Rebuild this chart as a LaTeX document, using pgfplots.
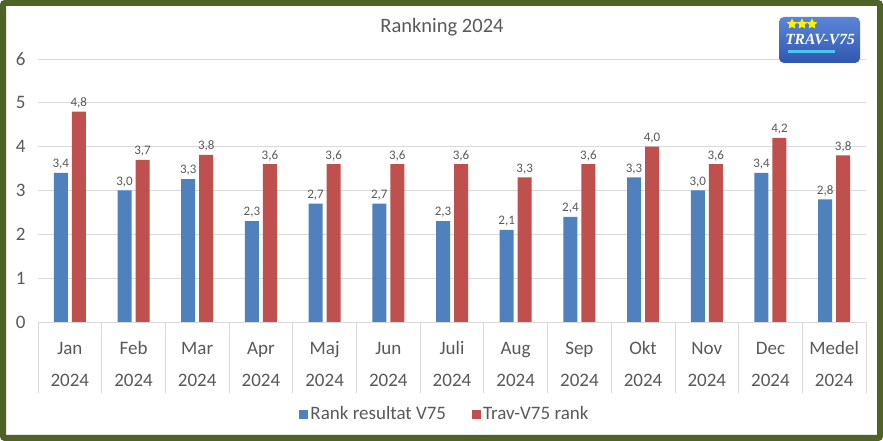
\documentclass[border=0pt]{standalone}
\usepackage{pgfplots}
\pgfplotsset{compat=1.18}
\usepackage{fontspec}
\setmainfont{Carlito}
\newfontfamily\logofont{Liberation Serif}
\usetikzlibrary{shapes.geometric}
\definecolor{serA}{HTML}{4F81BD}
\definecolor{serB}{HTML}{C0504D}
\definecolor{gridc}{HTML}{D9D9D9}
\definecolor{txt}{HTML}{595959}
\definecolor{frame}{HTML}{4F6228}
\definecolor{logoA}{HTML}{5B86D6}
\definecolor{logoB}{HTML}{2F57B0}
\newcommand{\ml}[1]{\strut #1\\[11pt]\strut 2024}

\begin{document}
\begin{tikzpicture}[x=1pt,y=1pt]
\useasboundingbox (0,0) rectangle (883,441);
\fill[white] (0,0) rectangle (883,441);
\draw[frame, line width=6pt, rounded corners=2pt] (3,3) rectangle (880,438);

\begin{axis}[
  at={(38pt,119pt)}, anchor=south west,
  scale only axis, width=828pt, height=263pt,
  ybar=4pt, bar width=14pt,
  xmin=-0.5, xmax=12.5, ymin=0, ymax=6,
  ytick={0,...,6},
  xtick={0,...,12},
  xticklabels={\ml{Jan},\ml{Feb},\ml{Mar},\ml{Apr},\ml{Maj},\ml{Jun},\ml{Juli},\ml{Aug},\ml{Sep},\ml{Okt},\ml{Nov},\ml{Dec},\ml{Medel}},
  xticklabel style={align=center, font=\fontsize{19}{21}\selectfont, text=txt, yshift=-14pt},
  minor xtick={-0.5,0.5,...,12.5},
  tick align=outside,
  major tick length=0pt,
  minor tick length=71pt,
  minor x tick style={draw=gridc, line width=0.8pt},
  yticklabel style={font=\fontsize{19}{21}\selectfont, text=txt, xshift=-9pt},
  /pgf/number format/assume math mode=true,
  ymajorgrids, grid style={gridc, line width=0.8pt},
  major y tick style={draw=none},
  axis x line*=bottom, axis y line*=left,
  x axis line style={gridc, line width=0.8pt, -},
  y axis line style={draw=none},
  nodes near coords,
  nodes near coords style={font=\fontsize{13}{14}\selectfont, text=txt,
    /pgf/number format/.cd, fixed, fixed zerofill, precision=1, use comma, assume math mode=true},
  legend style={at={(0.4915,-0.35)}, anchor=center, draw=none, fill=none,
    legend columns=2, font=\fontsize{19}{21}\selectfont, text=txt,
    /tikz/every even column/.append style={column sep=24pt}},
  legend image code/.code={\fill[#1] (0pt,-4.5pt) rectangle (9pt,4.5pt);},
]
\addplot[fill=serA, draw=none] coordinates {(0,3.4) (1,3.0) (2,3.26) (3,2.3) (4,2.7) (5,2.7) (6,2.3) (7,2.1) (8,2.4) (9,3.3) (10,3.0) (11,3.4) (12,2.8)};
\addplot[fill=serB, draw=none] coordinates {(0,4.8) (1,3.7) (2,3.81) (3,3.6) (4,3.6) (5,3.6) (6,3.6) (7,3.3) (8,3.6) (9,4.0) (10,3.6) (11,4.2) (12,3.8)};
\legend{Rank resultat V75, Trav-V75 rank}
\end{axis}

\node[text=txt, font=\fontsize{20.5}{22}\selectfont] at (442,414) {Rankning 2024};

% logo
\shade[rounded corners=5pt, top color=logoA, bottom color=logoB] (779,378) rectangle (860,424);
\foreach \sx in {792,802,812}
  \node[star, star points=5, star point ratio=2.0, fill=yellow, inner sep=0pt, minimum size=11pt] at (\sx,417) {};
\node[text=white, font=\logofont\bfseries\itshape\fontsize{15.5}{15}\selectfont] at (820,401) {TRAV-V75};
\fill[cyan!70!white] (788,388) rectangle (835,391);
\end{tikzpicture}
\end{document}
